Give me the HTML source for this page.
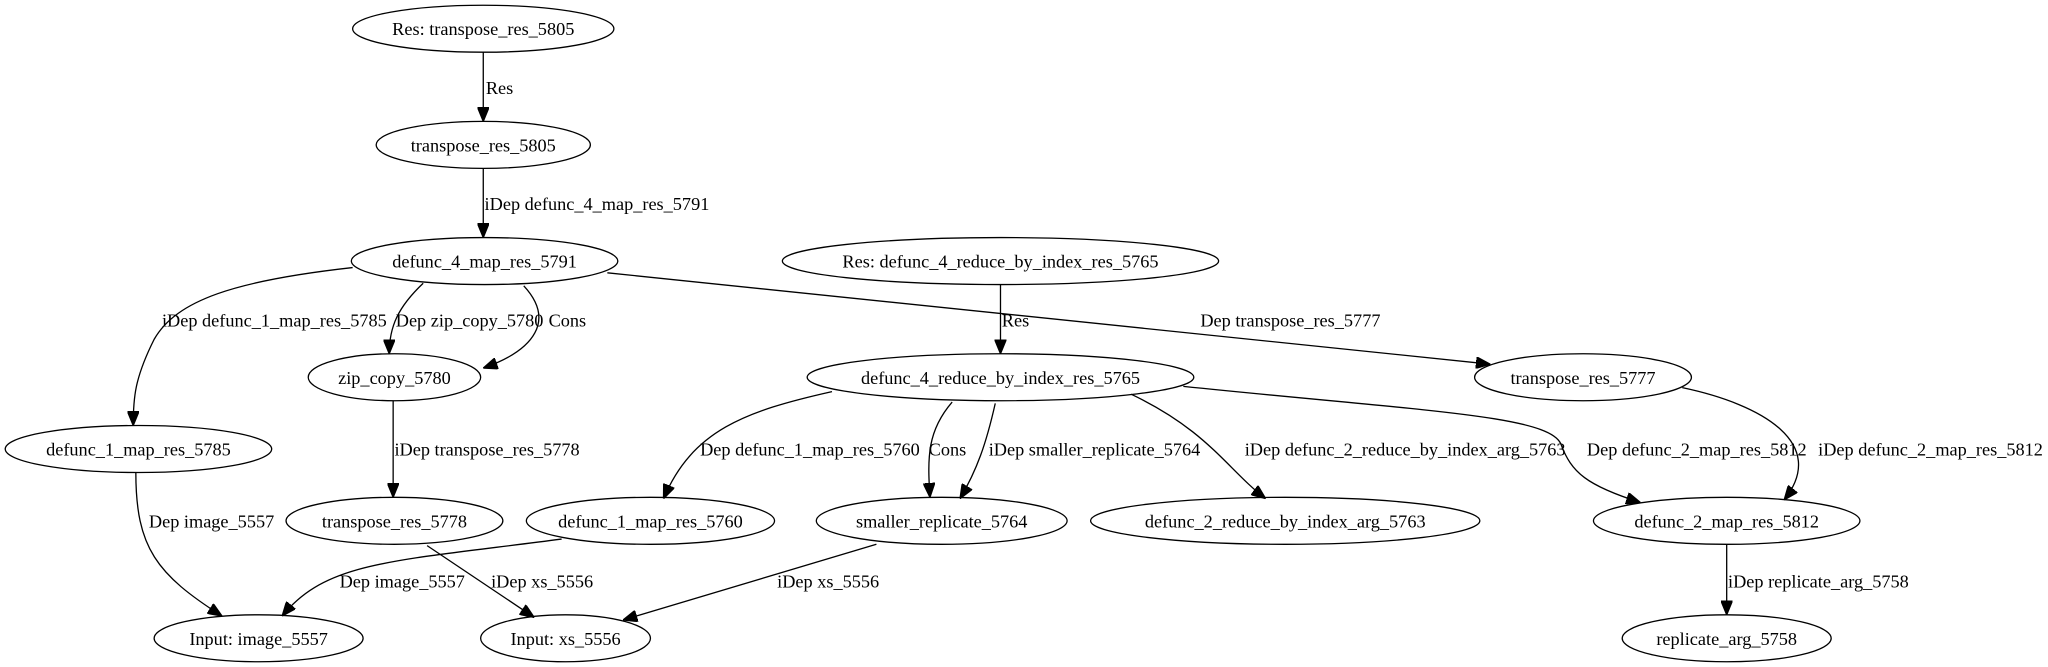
<!DOCTYPE html>
<html><head><meta charset="utf-8"><style>
html,body{margin:0;padding:0;background:#fff;}
svg{display:block}
text{font-family:"Liberation Serif",serif;font-size:14px;fill:#000}
ellipse{fill:none;stroke:#000;stroke-width:1}
path{fill:none;stroke:#000;stroke-width:1}
</style></head><body>
<svg width="2048" height="667" viewBox="0 0 1568 511" preserveAspectRatio="none" xmlns="http://www.w3.org/2000/svg">
<defs><marker id="a" markerWidth="11" markerHeight="9" refX="11" refY="4.5" orient="auto" markerUnits="userSpaceOnUse"><path d="M0,0 L11,4.5 L0,9 Z" style="fill:#000;stroke:#000"/></marker></defs>
<g>
<ellipse cx="370" cy="22" rx="100" ry="18"/><text x="370" y="27" text-anchor="middle">Res: transpose_res_5805</text>
<ellipse cx="370" cy="111" rx="82" ry="18"/><text x="370" y="116" text-anchor="middle">transpose_res_5805</text>
<ellipse cx="371" cy="200" rx="102" ry="18"/><text x="371" y="205" text-anchor="middle">defunc_4_map_res_5791</text>
<ellipse cx="766" cy="200" rx="167" ry="18"/><text x="766" y="205" text-anchor="middle">Res: defunc_4_reduce_by_index_res_5765</text>
<ellipse cx="302" cy="289" rx="66" ry="18"/><text x="302" y="294" text-anchor="middle">zip_copy_5780</text>
<ellipse cx="766" cy="289" rx="148" ry="18"/><text x="766" y="294" text-anchor="middle">defunc_4_reduce_by_index_res_5765</text>
<ellipse cx="1212" cy="289" rx="83" ry="18"/><text x="1212" y="294" text-anchor="middle">transpose_res_5777</text>
<ellipse cx="106" cy="344" rx="102" ry="18"/><text x="106" y="349" text-anchor="middle">defunc_1_map_res_5785</text>
<ellipse cx="302" cy="399" rx="83" ry="18"/><text x="302" y="404" text-anchor="middle">transpose_res_5778</text>
<ellipse cx="498" cy="399" rx="95" ry="18"/><text x="498" y="404" text-anchor="middle">defunc_1_map_res_5760</text>
<ellipse cx="721" cy="399" rx="96" ry="18"/><text x="721" y="404" text-anchor="middle">smaller_replicate_5764</text>
<ellipse cx="984" cy="399" rx="149" ry="18"/><text x="984" y="404" text-anchor="middle">defunc_2_reduce_by_index_arg_5763</text>
<ellipse cx="1322" cy="399" rx="102" ry="18"/><text x="1322" y="404" text-anchor="middle">defunc_2_map_res_5812</text>
<ellipse cx="198" cy="489" rx="80" ry="18"/><text x="198" y="494" text-anchor="middle">Input: image_5557</text>
<ellipse cx="433" cy="489" rx="65" ry="18"/><text x="433" y="494" text-anchor="middle">Input: xs_5556</text>
<ellipse cx="1322" cy="489" rx="80" ry="18"/><text x="1322" y="494" text-anchor="middle">replicate_arg_5758</text>
</g>
<g marker-end="url(#a)">
<path d="M370,40 L370,93"/>
<path d="M370,129 L370,182"/>
<path d="M270,205 C180,215 135,230 118,260 C103,290 102,305 102,326"/>
<path d="M324,217 C305,235 298,250 298,271"/>
<path d="M401,219 C425,245 410,268 370,282"/>
<path d="M465,209 L1141,279"/>
<path d="M766,218 L766,271"/>
<path d="M301,307 L301,381"/>
<path d="M637,300 C570,315 530,330 508,382"/>
<path d="M729,308 C710,330 710,350 712,381"/>
<path d="M762,309 C755,340 748,360 735,382"/>
<path d="M866,302 C925,330 940,360 969,382"/>
<path d="M906,296 C1090,315 1185,318 1195,340 C1203,362 1215,372 1256,385"/>
<path d="M1288,297 C1350,310 1400,340 1366,383"/>
<path d="M1322,417 L1322,471"/>
<path d="M104,362 C104,420 120,440 170,472"/>
<path d="M430,413 C300,430 250,430 216,472"/>
<path d="M327,418 L409,473"/>
<path d="M671,417 L477,475"/>
</g>
<g>
<text x="372" y="72">Res</text>
<text x="371" y="161">iDep defunc_4_map_res_5791</text>
<text x="124" y="250">iDep defunc_1_map_res_5785</text>
<text x="303" y="250">Dep zip_copy_5780</text>
<text x="420" y="250">Cons</text>
<text x="919" y="250">Dep transpose_res_5777</text>
<text x="767" y="250">Res</text>
<text x="302" y="349">iDep transpose_res_5778</text>
<text x="536" y="349">Dep defunc_1_map_res_5760</text>
<text x="711" y="349">Cons</text>
<text x="757" y="349">iDep smaller_replicate_5764</text>
<text x="953" y="349">iDep defunc_2_reduce_by_index_arg_5763</text>
<text x="1215" y="349">Dep defunc_2_map_res_5812</text>
<text x="1392" y="349">iDep defunc_2_map_res_5812</text>
<text x="1323" y="450">iDep replicate_arg_5758</text>
<text x="114" y="404">Dep image_5557</text>
<text x="260" y="450">Dep image_5557</text>
<text x="376" y="450">iDep xs_5556</text>
<text x="595" y="450">iDep xs_5556</text>
</g>
</svg>
</body></html>
